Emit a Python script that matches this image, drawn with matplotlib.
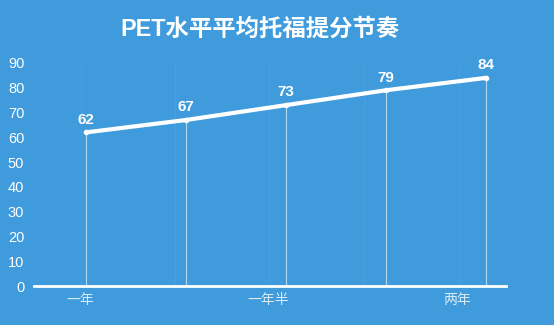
import matplotlib
matplotlib.use("Agg")
import matplotlib.pyplot as plt

plt.rcParams['font.family'] = ['Liberation Sans', 'Noto Sans CJK SC', 'DejaVu Sans']

# data
points = [0, 1, 2, 3, 4]
scores = [62, 67, 73, 79, 84]
tick_pos = [-0.06, 1.82, 3.71]
tick_labels = ["一年", "一年半", "两年"]
title = "PET水平平均托福提分节奏"

bg = "#3f9bdc"

fig = plt.figure(figsize=(5.54, 3.25), dpi=100)
fig.patch.set_facecolor(bg)
ax = fig.add_axes([34/554, 39/325, (506-34)/554, (286-63)/325])
ax.set_facecolor(bg)

# faint category grid
for gx in [-0.05, 0.89, 1.83, 2.78, 3.73]:
    ax.axvline(gx, color="white", alpha=0.06, lw=0.8, zorder=1)

# drop lines
ax.vlines(points, 0, scores, colors="white", alpha=0.6, lw=0.8, zorder=2)
ax.plot(points, scores, color="white", lw=3, solid_capstyle="round",
        marker="o", ms=3, zorder=3)
for x, y in zip(points, scores):
    ax.text(x, y + 2.3, str(y), color="white", fontsize=11, fontweight="bold",
            ha="center", va="bottom")

ax.set_xlim(-0.52, 4.2)
ax.set_ylim(0, 90)
ax.set_yticks(range(0, 91, 10))
ax.set_xticks(tick_pos)
ax.set_xticklabels(tick_labels, color="white", alpha=0.8, fontsize=10,
                   family=['Noto Sans CJK SC'])
ax.tick_params(axis="y", colors="white", labelsize=10.5, length=0, pad=7)
ax.tick_params(axis="x", length=0, pad=5)
for s in ["top", "right", "left"]:
    ax.spines[s].set_visible(False)
ax.spines["bottom"].set_color("white")
ax.spines["bottom"].set_linewidth(2)

fig.text(260/554, 1 - 29/325, title, color="white", fontsize=16.8, fontweight="bold",
         ha="center", va="center", family=['Liberation Sans', 'Noto Sans CJK SC'])

fig.savefig("out.png", dpi=100, facecolor=bg)
